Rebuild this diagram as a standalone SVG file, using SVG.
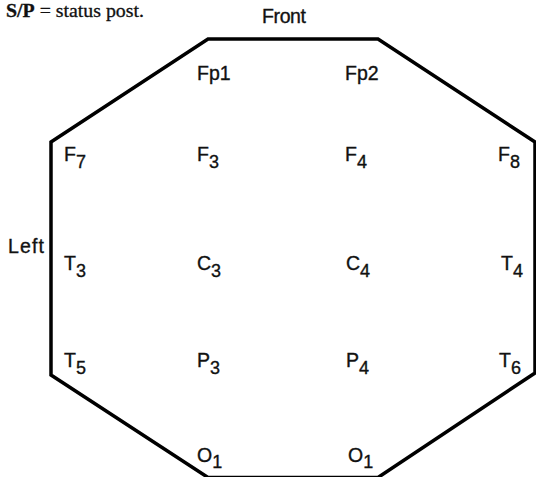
<svg xmlns="http://www.w3.org/2000/svg" width="536" height="477" viewBox="0 0 536 477">
<style>
.lbl{font-family:"Liberation Sans","Noto Sans",Arial,sans-serif;font-size:19.5px;fill:#111;stroke:#111;stroke-width:0.35}
.sub{font-size:18px}
.cap{font-family:"Liberation Serif","Times New Roman",serif;font-size:18px;fill:#111;stroke:#111;stroke-width:0.3}
.head{stroke:#000;stroke-width:3.5;fill:none;stroke-linejoin:miter}
</style>
<rect width="536" height="477" fill="#fff"/>
<text class="cap" x="6" y="17" textLength="138" lengthAdjust="spacingAndGlyphs"><tspan font-weight="bold">S/P</tspan> = status post.</text>
<text class="lbl" x="262" y="23" textLength="44">Front</text>
<text class="lbl" x="8" y="253" textLength="36">Left</text>
<polygon id="head" class="head" points="208,39 378,39 535,142 535,373 378,477.5 208,477.5 51,375 51,142"/>
<g id="connectors"/>
<g id="Fp1"><text class="lbl" x="197" y="80">Fp1</text></g>
<g id="Fp2"><text class="lbl" x="345" y="80">Fp2</text></g>
<g id="F7"><text class="lbl" x="64" y="161">F<tspan class="sub" dy="7">7</tspan></text></g>
<g id="F3"><text class="lbl" x="197" y="161">F<tspan class="sub" dy="7">3</tspan></text></g>
<g id="F4"><text class="lbl" x="345" y="161">F<tspan class="sub" dy="7">4</tspan></text></g>
<g id="F8"><text class="lbl" x="498" y="161">F<tspan class="sub" dy="7">8</tspan></text></g>
<g id="T3"><text class="lbl" x="64" y="270">T<tspan class="sub" dy="7">3</tspan></text></g>
<g id="C3"><text class="lbl" x="197" y="270">C<tspan class="sub" dy="7">3</tspan></text></g>
<g id="C4"><text class="lbl" x="346" y="270">C<tspan class="sub" dy="7">4</tspan></text></g>
<g id="T4"><text class="lbl" x="501" y="270">T<tspan class="sub" dy="7">4</tspan></text></g>
<g id="T5"><text class="lbl" x="64" y="367">T<tspan class="sub" dy="7">5</tspan></text></g>
<g id="P3"><text class="lbl" x="197" y="367">P<tspan class="sub" dy="7">3</tspan></text></g>
<g id="P4"><text class="lbl" x="346" y="367">P<tspan class="sub" dy="7">4</tspan></text></g>
<g id="T6"><text class="lbl" x="499" y="367">T<tspan class="sub" dy="7">6</tspan></text></g>
<g id="O1a"><text class="lbl" x="197" y="462">O<tspan class="sub" dy="6">1</tspan></text></g>
<g id="O1b"><text class="lbl" x="348" y="462">O<tspan class="sub" dy="6">1</tspan></text></g>
</svg>
